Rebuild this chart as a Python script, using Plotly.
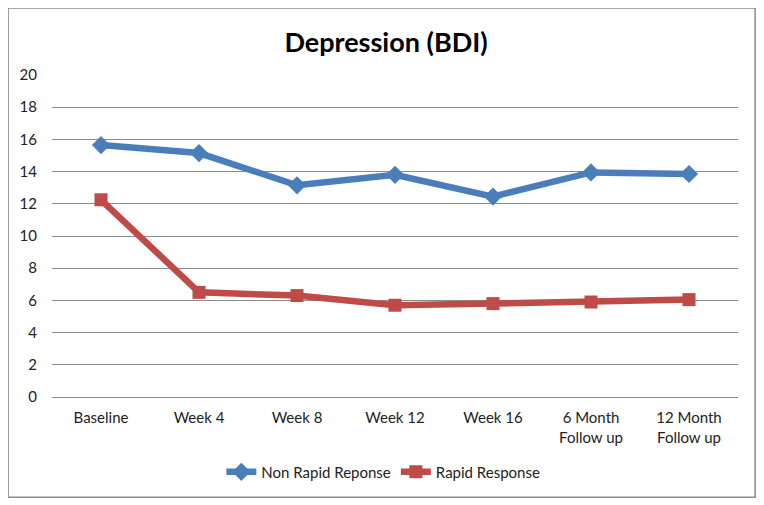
import plotly.graph_objects as go

categories = ["Baseline", "Week 4", "Week 8", "Week 12", "Week 16",
              "6 Month<br>Follow up", "12 Month<br>Follow up"]
non_rapid = [15.65, 15.15, 13.15, 13.8, 12.45, 13.95, 13.85]
rapid = [12.25, 6.5, 6.3, 5.7, 5.8, 5.9, 6.05]
y_ticks = [0, 2, 4, 6, 8, 10, 12, 14, 16, 18, 20]

FONT = "Lato, Open Sans, sans-serif"

fig = go.Figure()
fig.add_trace(go.Scatter(
    x=categories, y=non_rapid, name="Non Rapid Reponse", mode="lines+markers",
    line=dict(color="#4A7EBB", width=6.5),
    marker=dict(symbol="diamond", size=14, color="#4A7EBB"),
))
fig.add_trace(go.Scatter(
    x=categories, y=rapid, name="Rapid Response", mode="lines+markers",
    line=dict(color="#BE4B48", width=6.5),
    marker=dict(symbol="square", size=13, color="#BE4B48"),
))

fig.update_layout(
    width=756, height=497,
    margin=dict(l=44, r=26, t=67, b=108),
    paper_bgcolor="white", plot_bgcolor="white",
    font=dict(family=FONT, size=15, color="#222222"),
    title=dict(text="<b>Depression (BDI)</b>", x=0.5, xanchor="center",
               y=0.93, yanchor="middle",
               font=dict(family=FONT, size=27, color="black")),
    showlegend=True,
    legend=dict(orientation="h", x=0.483, xanchor="center", y=-0.233, yanchor="middle",
                font=dict(size=15), traceorder="normal"),
    xaxis=dict(type="category", range=[-0.5, 6.5], showgrid=False, showline=False,
               ticks="", ticklabelstandoff=10, tickfont=dict(size=15), fixedrange=True),
    yaxis=dict(range=[0, 20], tickvals=y_ticks, showgrid=True, gridcolor="#8c8c8c",
               gridwidth=1, zeroline=True, zerolinecolor="#8c8c8c", zerolinewidth=1,
               showline=False, ticks="", ticklabelstandoff=14,
               tickfont=dict(size=15)),
    shapes=[dict(type="rect", xref="paper", yref="paper",
                 x0=-0.064, x1=1.025, y0=-0.311, y1=1.208,
                 line=dict(color="#8c8c8c", width=1.5))],
)

fig.write_html("out.html")
